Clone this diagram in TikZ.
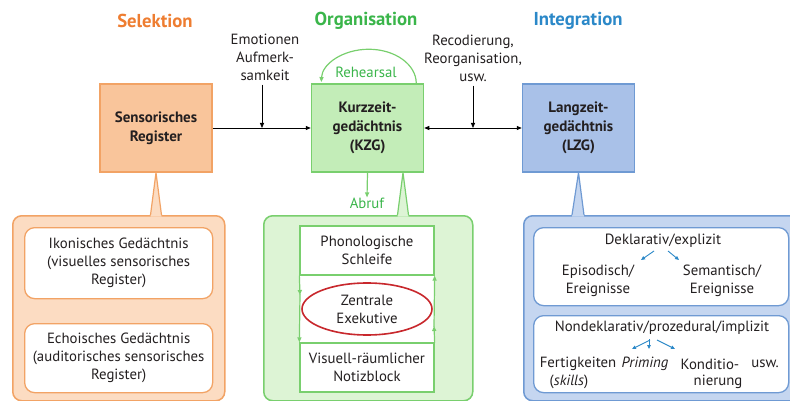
\documentclass[tikz,border=0pt]{standalone}
\usepackage{fontspec}
\setmainfont{PT Sans}
\usetikzlibrary{arrows.meta,shapes.geometric}
\definecolor{tOr}{HTML}{EE7D31}
\definecolor{tGr}{HTML}{3AB54A}
\definecolor{tBl}{HTML}{2B88C8}
\definecolor{bOrF}{HTML}{F9C59B}
\definecolor{bOrD}{HTML}{F2A365}
\definecolor{bGrF}{HTML}{C3EDB8}
\definecolor{bGrD}{HTML}{79CF6E}
\definecolor{bBlF}{HTML}{A9C1E8}
\definecolor{bBlD}{HTML}{6F9AD3}
\definecolor{pOrF}{HTML}{FCDCC2}
\definecolor{pGrF}{HTML}{DDF4D5}
\definecolor{pBlF}{HTML}{C5D6F0}
\definecolor{eRed}{HTML}{C8282D}
\definecolor{txt}{HTML}{231F20}
\begin{document}
\begin{tikzpicture}[x=1pt,y=-1pt,
  font=\fontsize{14.8}{18}\selectfont, text=txt,
  title/.style={font=\fontsize{18.7}{21}\selectfont\bfseries},
  membox/.style={rectangle, line width=1.5pt, minimum width=112pt, minimum height=88pt, align=center, inner sep=0pt,
    font=\fontsize{15}{19}\selectfont\bfseries},
  panel/.style={rectangle, rounded corners=9pt, line width=1.5pt, anchor=north west, inner sep=0pt},
  inbox/.style={rectangle, rounded corners=10pt, line width=1.3pt, fill=white, anchor=north west, inner sep=0pt, align=center},
  lbl/.style={align=center, inner sep=0pt},
  arr/.style={line width=0.8pt, -{Triangle[length=5pt,width=4pt]}},
  darr/.style={line width=0.8pt, {Triangle[length=5pt,width=4pt]}-{Triangle[length=5pt,width=4pt]}},
  garr/.style={line width=1.2pt, draw=bGrD, -{Triangle[length=5pt,width=4pt]}},
  barr/.style={line width=0.9pt, draw=tBl, -{Triangle[length=4pt,width=3.5pt]}},
]
\useasboundingbox (0,0) rectangle (790,401);
\clip (0,0) rectangle (790,401);

% titles
\node[title, text=tOr] (t1) at (155,21) {Selektion};
\node[title, text=tGr] (t2) at (366,21) {Organisation};
\node[title, text=tBl] (t3) at (578,21) {Integration};

% memory boxes
\node[membox, fill=bOrF, draw=bOrD] (sr) at (156,128) {Sensorisches\\Register};
\node[membox, fill=bGrF, draw=bGrD] (kzg) at (367.5,128) {Kurzzeit-\\gedächtnis\\(KZG)};
\node[membox, fill=bBlF, draw=bBlD] (lzg) at (578.5,128) {Langzeit-\\gedächtnis\\(LZG)};

% labels above connectors
\node[lbl] (emo) at (265,57) {Emotionen\\Aufmerk-\\samkeit};
\node[lbl] (rec) at (473,58) {Recodierung,\\Reorganisation,\\usw.};
\coordinate (j1) at (262,128);
\coordinate (j2) at (473,128);

\draw[arr] (sr.east) -- (kzg.west);
\draw[arr] (emo.south -| j1) ++(0,4) -- (j1);
\draw[darr] (kzg.east) -- (lzg.west);
\draw[arr] (rec.south -| j2) ++(0,4) -- (j2);

% rehearsal
\node[lbl, text=tGr] (reh) at (366,72) {Rehearsal};
\draw[garr] ([xshift=-8pt]kzg.north east) arc[start angle=0, end angle=-178, x radius=47.5, y radius=34];

% abruf
\node[lbl, text=tGr] (abr) at (367,203) {Abruf};
\draw[garr] (kzg.south) -- (abr.north);

% panels
\node[panel, fill=pOrF, draw=bOrD, minimum width=212pt, minimum height=185pt] (lp) at (12,215) {};
\node[panel, fill=pGrF, draw=bGrD, minimum width=209pt, minimum height=185pt] (mp) at (263,215) {};
\node[panel, fill=pBlF, draw=bBlD, minimum width=290pt, minimum height=185pt] (rp) at (523,215) {};

% callout triangles
\fill[pOrF] (150.5,216.5) -- (sr.south) -- (161.5,216.5) -- cycle;
\draw[bOrD, line width=1.2pt, line join=round] (150.5,215) -- (sr.south) -- (161.5,215);
\fill[pGrF] (397.5,216.5) -- ([xshift=35.5pt]kzg.south) -- (408.5,216.5) -- cycle;
\draw[bGrD, line width=1.2pt, line join=round] (397.5,215) -- ([xshift=35.5pt]kzg.south) -- (408.5,215);
\fill[pBlF] (572,216.5) -- (lzg.south) -- (584,216.5) -- cycle;
\draw[bBlD, line width=1.2pt, line join=round] (572,215) -- (lzg.south) -- (584,215);

% left panel content
\node[inbox, draw=bOrD, minimum width=188pt, minimum height=71pt] (ik) at (24,227)
  {Ikonisches Gedächtnis\\(visuelles sensorisches\\Register)};
\node[inbox, draw=bOrD, minimum width=188pt, minimum height=69pt] (ec) at (24,323)
  {Echoisches Gedächtnis\\(auditorisches sensorisches\\Register)};

% middle panel content
\fill[white] (300,226) rectangle (434,392);
\node[rectangle, draw=bGrD, line width=1.3pt, fill=white, minimum width=134pt, minimum height=49pt, inner sep=0pt, align=center] (ps) at (367,250.5) {Phonologische\\Schleife};
\node[rectangle, draw=bGrD, line width=1.3pt, fill=white, minimum width=134pt, minimum height=49pt, inner sep=0pt, align=center] (vn) at (367,367.5) {Visuell-räumlicher\\Notizblock};
\draw[garr] (ps.south west) -- (300,295);
\draw[garr] (300,294) -- (vn.north west);
\draw[garr] (vn.north east) -- (434,326);
\draw[garr] (434,327) -- (ps.south east);
\node[ellipse, draw=eRed, line width=1.6pt, fill=white, minimum width=130pt, minimum height=52pt, inner sep=0pt, align=center] (ze) at (367,309) {Zentrale\\Exekutive};

% right panel content
\node[inbox, draw=bBlD, minimum width=255pt, minimum height=78pt] (dk) at (533,227) {};
\node[inbox, draw=bBlD, minimum width=255pt, minimum height=77pt] (nd) at (533,315) {};
\node[lbl] (dkt) at (663,241) {Deklarativ/explizit};
\node[lbl] (epi) at (598,281) {Episodisch/\\Ereignisse};
\node[lbl] (sem) at (722,281) {Semantisch/\\Ereignisse};
\draw[barr] (654,251) -- (641,260);
\draw[barr] (668,251) -- (679,260);
\node[lbl] (ndt) at (662,328) {Nondeklarativ/prozedural/implizit};
\node[lbl] (fer) at (578,364) {Fertigkeiten};
\node[lbl] (ski) at (569,382) {(\textit{skills})};
\node[lbl] (pri) at (645,364) {\textit{Priming}};
\node[lbl] (kon) at (710,364) {Konditio-};
\node[lbl] (nie) at (718,382) {nierung};
\node[lbl] (usw) at (765,364) {usw.};
\draw[barr] (650,340) -- (632,349);
\draw[barr] (649,339) -- (649,349);
\draw[barr] (657,340) -- (675,349);
\end{tikzpicture}
\end{document}
